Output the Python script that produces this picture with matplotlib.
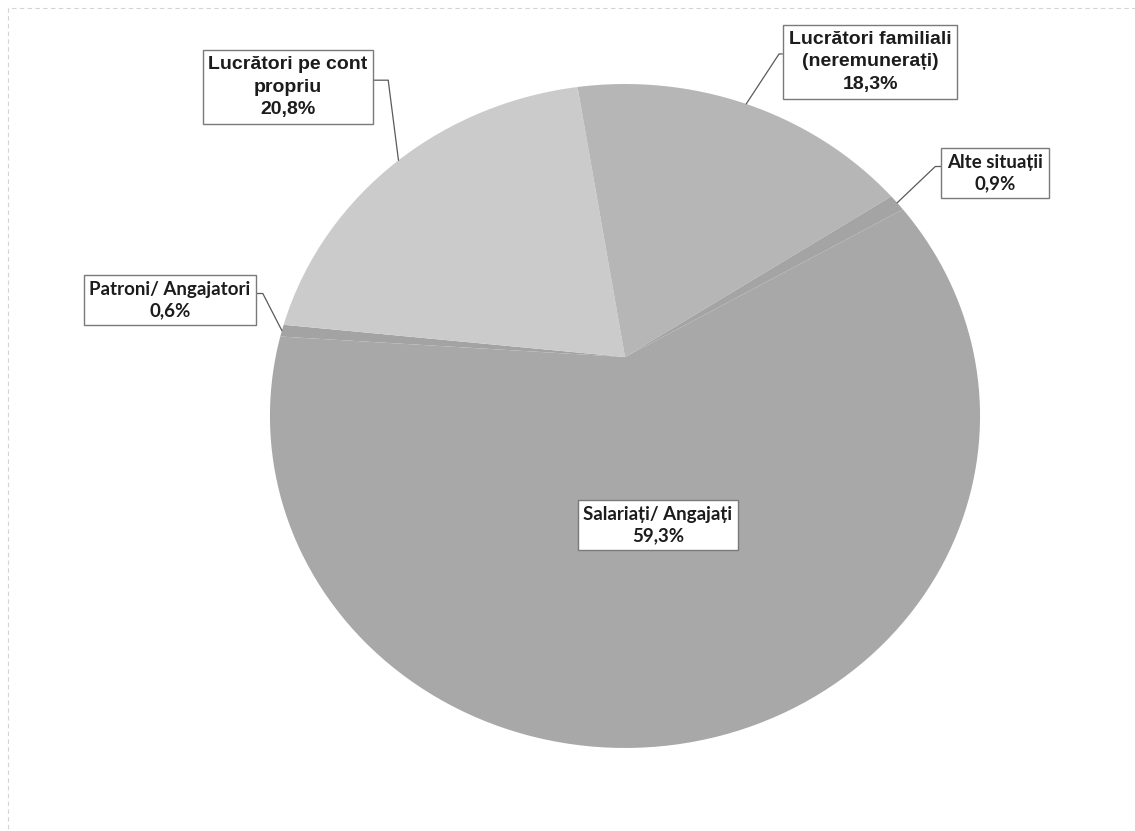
import numpy as np
import matplotlib
matplotlib.use("Agg")
import matplotlib.pyplot as plt
from matplotlib.transforms import Transform, Affine2D
from matplotlib.path import Path
from matplotlib.patches import Rectangle

# Employment status shares (%)
categories = ["Salariați/ Angajați", "Patroni/ Angajatori", "Lucrători pe cont\npropriu",
              "Lucrători familiali\n(neremunerați)", "Alte situații"]
shares = [59.3, 0.6, 20.8, 18.3, 0.9]
share_text = ["59,3%", "0,6%", "20,8%", "18,3%", "0,9%"]

colors = ["#a8a8a8", "#a3a3a3", "#cbcbcb", "#b6b6b6", "#a4a4a4"]
fonts = [["Lato", "DejaVu Sans"], ["Lato", "DejaVu Sans"],
         ["Liberation Sans", "DejaVu Sans"], ["Liberation Sans", "DejaVu Sans"],
         ["Lato", "DejaVu Sans"]]
sizes = [13.5, 13.5, 14, 14, 13.5]
spacing = [1.3, 1.3, 1.42, 1.42, 1.3]
# label box centres and the elbow of each leader line (pixel coords, y down)
box_pos = [(658, 525), (170, 300), (288, 87), (870, 62), (995, 173)]
elbows = [None, (262, 292), (388, 79), (779, 54), (939, 163)]
relpos = [None, (1, 0.67), (1, 0.61), (0, 0.63), (0, 0.67)]

START = 30


class TiltTransform(Transform):
    """Maps the unit pie onto a slightly tilted disc (near edge bigger)."""
    input_dims = output_dims = 2

    def __init__(self, cx, cy, rx, ry, k):
        super().__init__()
        self.cx, self.cy, self.rx, self.ry, self.k = cx, cy, rx, ry, k

    def transform_non_affine(self, values):
        xy = np.asarray(values, dtype=float).reshape(-1, 2)
        w = 1 + self.k * xy[:, 1]
        return np.column_stack([self.cx + self.rx * xy[:, 0] / w,
                                self.cy - self.ry * xy[:, 1] / w])

    def transform_path_non_affine(self, path):
        # flatten the bezier arcs first so the rim stays round after tilting
        polys = path.to_polygons(transform=Affine2D().scale(500), closed_only=True)
        verts = np.concatenate(polys) / 500.0
        return Path(self.transform_non_affine(verts), closed=True)


fig = plt.figure(figsize=(11.35, 8.31), dpi=100)
ax = fig.add_axes([0, 0, 1, 1])

wedges, _ = ax.pie(shares, colors=colors, startangle=START, counterclock=False,
                   wedgeprops=dict(linewidth=0))
tilt = TiltTransform(625, 357, 349.4, 321.5, 0.1777)
for w in wedges:
    w.set_transform(tilt + ax.transData)

ax.set_aspect("auto")
ax.set_xlim(0, 1135)
ax.set_ylim(831, 0)
ax.axis("off")

total = sum(shares)
cum = np.cumsum([0] + shares[:-1])
for i, (cat, pct) in enumerate(zip(categories, share_text)):
    mid = np.deg2rad(START - 360 * (cum[i] + shares[i] / 2) / total)
    edge = tilt.transform([[np.cos(mid), np.sin(mid)]])[0]
    bbox = dict(boxstyle="square,pad=0.3", fc="white", ec="#7a7a7a", lw=1.0)
    kw = dict(ha="center", va="center", multialignment="center",
              fontsize=sizes[i], fontweight="bold", family=fonts[i],
              color="#1c1c1c", bbox=bbox, linespacing=spacing[i], zorder=5)
    label = f"{cat}\n{pct}"
    if elbows[i] is None:
        ax.text(*box_pos[i], label, **kw)
        continue
    ex, ey = elbows[i]
    angle_b = np.degrees(np.arctan2(-(ey - edge[1]), ex - edge[0]))
    ax.annotate(label, xy=edge, xytext=box_pos[i], xycoords="data", textcoords="data",
                arrowprops=dict(arrowstyle="-", color="#5a5a5a", lw=0.9,
                                shrinkA=0, shrinkB=0, relpos=relpos[i],
                                connectionstyle=f"angle,angleA=0,angleB={angle_b:.1f},rad=0"),
                **kw)

# faint chart-area border
fig.patches.append(Rectangle((8 / 1135, -0.05), 1.2, (831 - 8) / 831 + 0.05,
                             transform=fig.transFigure, fill=False, ec="#d4d4d4",
                             lw=0.8, ls=(0, (4, 3))))

fig.savefig("out.png", dpi=100)
